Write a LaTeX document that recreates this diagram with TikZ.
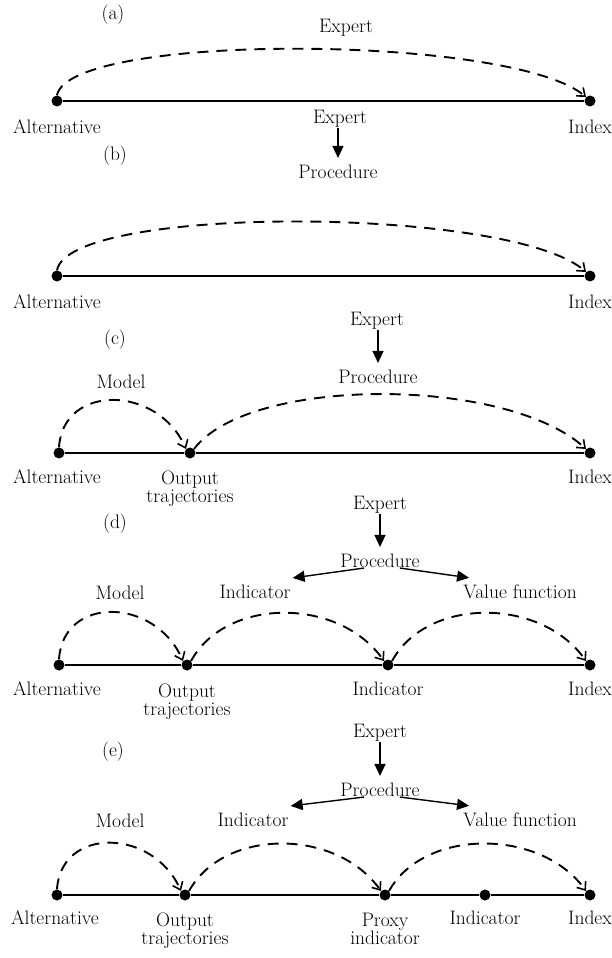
\documentclass[tikz,border=0pt]{standalone}
\usetikzlibrary{arrows.meta,calc}
\begin{document}
\begin{tikzpicture}[x=1pt,y=-1pt,
  lbl/.style={font=\fontsize{19.5}{18}\selectfont, inner sep=0pt, align=center},
  blbl/.style={lbl, anchor=north},
  dot/.style={circle,fill=black,inner sep=0pt,minimum size=11pt},
  axisline/.style={line width=2.6pt},
  dasharc/.style={line width=1.9pt, dash pattern=on 11pt off 8pt,
    -{Straight Barb[length=7pt,width=11pt,line width=1.6pt]}},
  solidarr/.style={line width=1.4pt,-{Triangle[length=12pt,width=11pt]}}]
\useasboundingbox (0,0) rectangle (611,958);

% ---------- (a)
\node[lbl] (la) at (113,15) {(a)};
\node[lbl] (ea) at (346,28) {Expert};
\node[dot] (a1) at (57,101) {};
\node[dot] (a2) at (590,101) {};
\node[blbl] (a1l) at (57,120) {Alternative};
\node[blbl] (a2l) at (590,120) {Index};
\draw[axisline] (a1) -- (a2);
\draw[dasharc] (a1.north) .. controls +(12,-63) and +(-75,-63) .. (a2.north west);

% ---------- (b)
\node[lbl] (eb) at (340,119) {Expert};
\node[lbl] (lb) at (115,156) {(b)};
\node[lbl] (pb) at (338,172) {Procedure};
\draw[solidarr] (eb.south -| pb) -- ([yshift=7pt]pb.north);
\node[dot] (b1) at (57,276) {};
\node[dot] (b2) at (590,276) {};
\node[blbl] (b1l) at (57,295) {Alternative};
\node[blbl] (b2l) at (590,295) {Index};
\draw[axisline] (b1) -- (b2);
\draw[dasharc] (b1.north) .. controls +(12,-66) and +(-75,-66) .. (b2.north west);

% ---------- (c)
\node[lbl] (ec) at (377,321) {Expert};
\node[lbl] (lc) at (115,340) {(c)};
\node[lbl] (pc) at (378,377) {Procedure};
\node[lbl] (mc) at (121,382) {Model};
\draw[solidarr] (ec.south -| pc) -- ([yshift=7pt]pc.north);
\node[dot] (c1) at (59,453) {};
\node[dot] (c2) at (190,453) {};
\node[dot] (c3) at (590,453) {};
\node[blbl] (c1l) at (57,470) {Alternative};
\node[blbl] (c2l) at (190,471) {Output\\trajectories};
\node[blbl] (c3l) at (590,470) {Index};
\draw[axisline] (c1) -- (c2) -- (c3);
\draw[dasharc] (c1.north) .. controls +(4,-64) and +(-28,-64) .. (c2.north west);
\draw[dasharc] (c2.north east) .. controls +(55,-73) and +(-80,-73) .. (c3.north west);

% ---------- (d)
\node[lbl] (ed) at (380,505) {Expert};
\node[lbl] (ld) at (115,524) {(d)};
\node[lbl] (pd) at (380,561) {Procedure};
\node[lbl] (md) at (120,593) {Model};
\node[lbl] (id) at (255,592) {Indicator};
\node[lbl] (vd) at (520,592) {Value function};
\draw[solidarr] (ed.south -| pd) -- ([yshift=7pt]pd.north);
\draw[solidarr] ([xshift=-16pt]pd.south) -- ([xshift=2pt,yshift=7pt]id.north east);
\draw[solidarr] ([xshift=20pt]pd.south) -- ([xshift=6pt,yshift=7pt]vd.north west);
\node[dot] (d1) at (59,665) {};
\node[dot] (d2) at (187,665) {};
\node[dot] (d3) at (388,665) {};
\node[dot] (d4) at (590,665) {};
\node[blbl] (d1l) at (57,682) {Alternative};
\node[blbl] (d2l) at (187,684) {Output\\trajectories};
\node[blbl] (d3l) at (388,682) {Indicator};
\node[blbl] (d4l) at (590,682) {Index};
\draw[axisline] (d1) -- (d2) -- (d3) -- (d4);
\draw[dasharc] (d1.north) .. controls +(4,-64) and +(-28,-64) .. (d2.north west);
\draw[dasharc] (d2.north east) .. controls +(35,-64) and +(-45,-64) .. (d3.north west);
\draw[dasharc] (d3.north east) .. controls +(35,-64) and +(-45,-64) .. (d4.north west);

% ---------- (e)
\node[lbl] (ee) at (380,733) {Expert};
\node[lbl] (le) at (113,752) {(e)};
\node[lbl] (pe) at (380,790) {Procedure};
\node[lbl] (me) at (120,821) {Model};
\node[lbl] (ie) at (253,820) {Indicator};
\node[lbl] (ve) at (520,820) {Value function};
\draw[solidarr] (ee.south -| pe) -- ([yshift=7pt]pe.north);
\draw[solidarr] ([xshift=-16pt]pe.south) -- ([xshift=2pt,yshift=7pt]ie.north east);
\draw[solidarr] ([xshift=20pt]pe.south) -- ([xshift=6pt,yshift=7pt]ve.north west);
\node[dot] (e1) at (57,895) {};
\node[dot] (e2) at (185,895) {};
\node[dot] (e3) at (385,895) {};
\node[dot] (e4) at (485,895) {};
\node[dot] (e5) at (590,895) {};
\node[blbl] (e1l) at (55,911) {Alternative};
\node[blbl] (e2l) at (185,913) {Output\\trajectories};
\node[blbl] (e3l) at (385,913) {Proxy\\indicator};
\node[blbl] (e4l) at (485,911) {Indicator};
\node[blbl] (e5l) at (590,911) {Index};
\draw[axisline] (e1) -- (e2) -- (e3) -- (e4) -- (e5);
\draw[dasharc] (e1.north) .. controls +(4,-63) and +(-28,-63) .. (e2.north west);
\draw[dasharc] (e2.north east) .. controls +(35,-63) and +(-45,-63) .. (e3.north west);
\draw[dasharc] (e3.north east) .. controls +(35,-63) and +(-45,-63) .. (e5.north west);
\end{tikzpicture}
\end{document}
